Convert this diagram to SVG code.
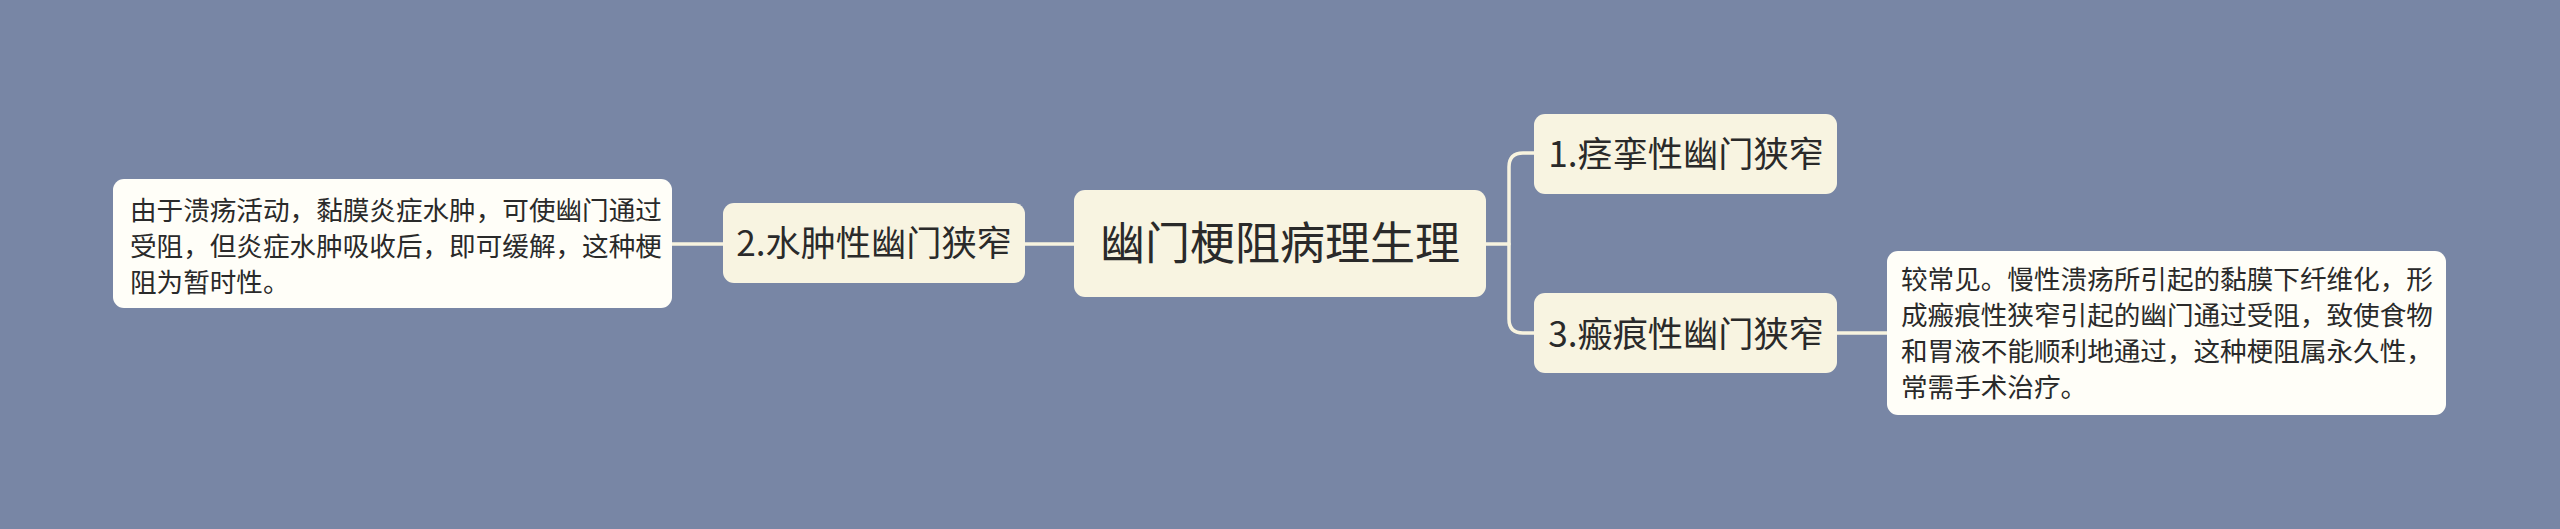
<svg xmlns="http://www.w3.org/2000/svg" width="2560" height="529" viewBox="0 0 2560 529">
<style>
  .bg{fill:#7886a5;}
  .main{fill:#f8f4e1;}
  .leaf{fill:#fffef8;}
  .t{font-family:"Noto Sans CJK SC","Noto Sans",sans-serif;fill:#2a2a2a;}
  .c{fill:none;stroke:#f7f3df;stroke-width:3.5;stroke-linecap:round;}
</style>
<rect class="bg" x="0" y="0" width="2560" height="529"/>
<g id="connectors">
  <path class="c" d="M1074,244 H1025"/>
  <path class="c" d="M723,244 H672"/>
  <path class="c" d="M1486,244 H1509"/>
  <path class="c" d="M1535,153 H1523 Q1509,153 1509,167 V319 Q1509,333 1523,333 H1535"/>
  <path class="c" d="M1837,333 H1887"/>
</g>
<g id="root">
  <rect class="main" x="1074" y="190" width="412" height="107" rx="11"/>
  <text class="t" x="1280" y="259.5" font-size="45" text-anchor="middle">幽门梗阻病理生理</text>
</g>
<g id="n1">
  <rect class="main" x="1534" y="114" width="303" height="80" rx="11"/>
  <text class="t" x="1686" y="167" font-size="35.2" text-anchor="middle">1.痉挛性幽门狭窄</text>
</g>
<g id="n2">
  <rect class="main" x="723" y="203" width="302" height="80" rx="11"/>
  <text class="t" x="874" y="256" font-size="35.2" text-anchor="middle">2.水肿性幽门狭窄</text>
</g>
<g id="n3">
  <rect class="main" x="1534" y="293" width="303" height="80" rx="11"/>
  <text class="t" x="1686" y="346.5" font-size="35.2" text-anchor="middle">3.瘢痕性幽门狭窄</text>
</g>
<g id="leaf2">
  <rect class="leaf" x="113" y="179" width="559" height="129" rx="11"/>
  <text class="t" font-size="26.6">
    <tspan x="130" y="220">由于溃疡活动，黏膜炎症水肿，可使幽门通过</tspan>
    <tspan x="130" y="256">受阻，但炎症水肿吸收后，即可缓解，这种梗</tspan>
    <tspan x="130" y="292">阻为暂时性。</tspan>
  </text>
</g>
<g id="leaf3">
  <rect class="leaf" x="1887" y="251" width="559" height="164" rx="11"/>
  <text class="t" font-size="26.6">
    <tspan x="1901" y="289">较常见。慢性溃疡所引起的黏膜下纤维化，形</tspan>
    <tspan x="1901" y="325">成瘢痕性狭窄引起的幽门通过受阻，致使食物</tspan>
    <tspan x="1901" y="361">和胃液不能顺利地通过，这种梗阻属永久性，</tspan>
    <tspan x="1901" y="397">常需手术治疗。</tspan>
  </text>
</g>
</svg>
